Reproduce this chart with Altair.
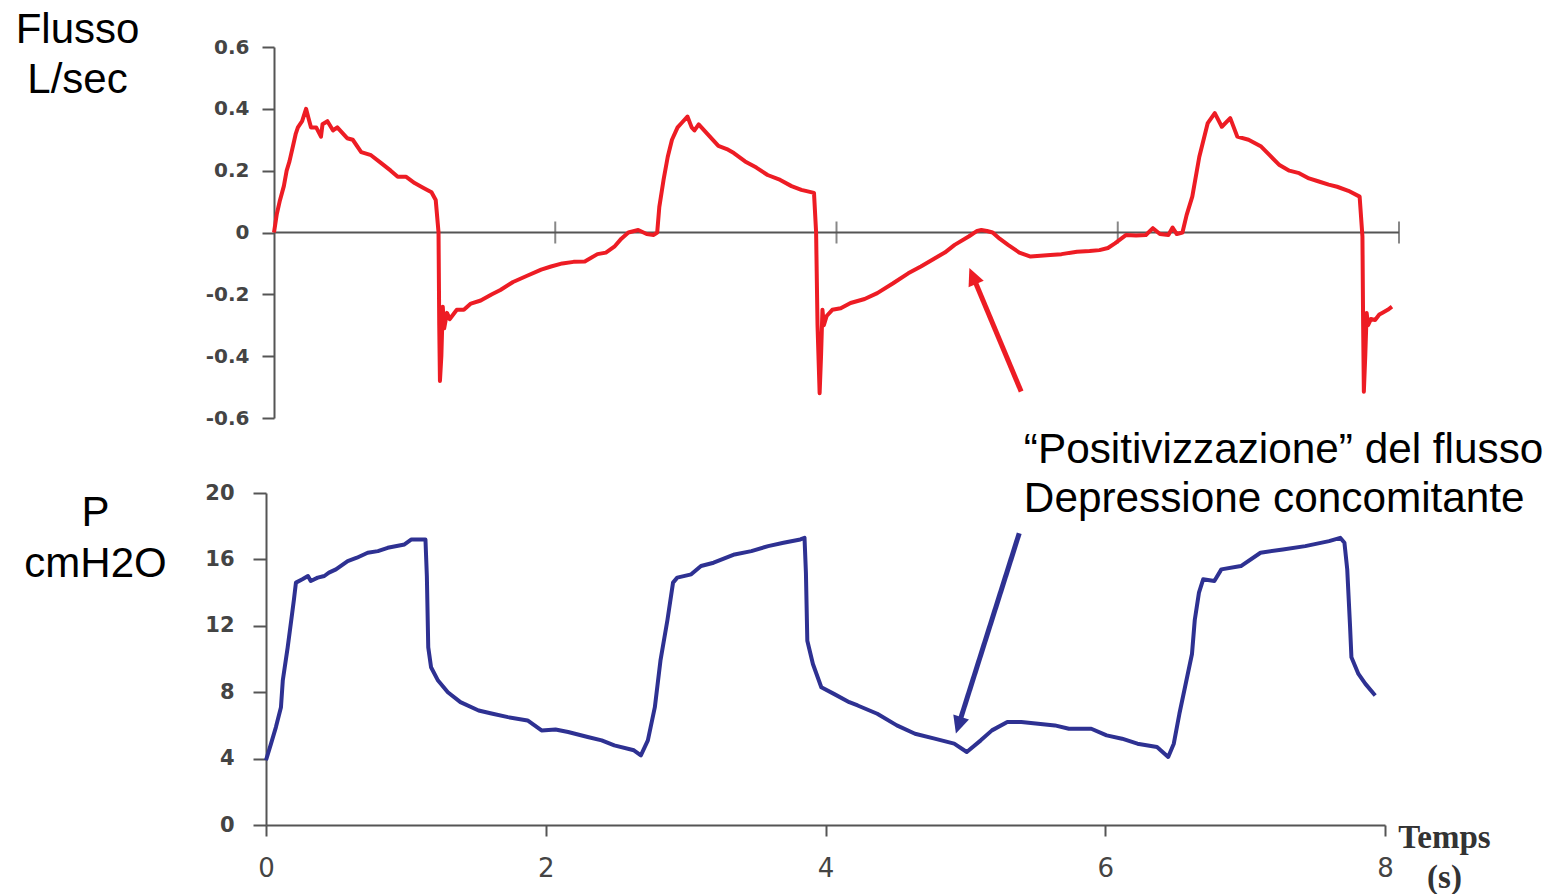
import altair as alt
import pandas as pd

# ---------------- data ----------------
flow_t = [0.00, 0.02, 0.04, 0.07, 0.09, 0.11, 0.135, 0.155, 0.17, 0.20, 0.228, 0.245, 0.263, 0.30,
          0.334, 0.345, 0.38, 0.42, 0.45, 0.52, 0.56, 0.62, 0.69, 0.76, 0.83, 0.88, 0.94, 1.00,
          1.06, 1.12, 1.15, 1.17, 1.175, 1.18, 1.19, 1.20, 1.21, 1.23, 1.25, 1.30, 1.35, 1.40,
          1.47, 1.55, 1.61, 1.70, 1.80, 1.90, 1.97, 2.05, 2.13, 2.21, 2.30, 2.36, 2.42, 2.47,
          2.52, 2.59, 2.65, 2.70, 2.725, 2.74, 2.77, 2.80, 2.83, 2.87, 2.90, 2.94, 2.97, 2.99,
          3.02, 3.08, 3.16, 3.22, 3.27, 3.35, 3.43, 3.51, 3.60, 3.68, 3.75, 3.84, 3.855, 3.865,
          3.88, 3.89, 3.90, 3.91, 3.93, 3.97, 4.03, 4.10, 4.20, 4.29, 4.40, 4.51, 4.60, 4.70,
          4.77, 4.84, 4.94, 5.00, 5.03, 5.07, 5.11, 5.16, 5.22, 5.30, 5.38, 5.45, 5.52, 5.60,
          5.71, 5.80, 5.87, 5.93, 5.98, 6.06, 6.13, 6.20, 6.25, 6.30, 6.36, 6.39, 6.42, 6.46,
          6.49, 6.53, 6.58, 6.64, 6.69, 6.74, 6.80, 6.85, 6.93, 7.02, 7.08, 7.15, 7.22, 7.29,
          7.36, 7.43, 7.50, 7.56, 7.64, 7.72, 7.74, 7.745, 7.75, 7.76, 7.77, 7.78, 7.80, 7.83,
          7.86, 7.88, 7.92, 7.95]
flow_v = [0.00, 0.06, 0.10, 0.15, 0.20, 0.23, 0.28, 0.32, 0.34, 0.36, 0.40, 0.37, 0.34, 0.34,
          0.31, 0.35, 0.36, 0.33, 0.34, 0.305, 0.30, 0.26, 0.25, 0.225, 0.20, 0.18, 0.18, 0.16,
          0.145, 0.13, 0.105, 0.00, -0.30, -0.48, -0.40, -0.24, -0.31, -0.26, -0.28, -0.25, -0.25, -0.23,
          -0.22, -0.20, -0.186, -0.16, -0.14, -0.12, -0.11, -0.10, -0.095, -0.094, -0.07, -0.065, -0.046, -0.02,
          0.00, 0.008, -0.005, -0.008, 0.00, 0.083, 0.17, 0.245, 0.30, 0.34, 0.355, 0.375, 0.34, 0.33,
          0.35, 0.32, 0.28, 0.27, 0.257, 0.23, 0.21, 0.186, 0.17, 0.15, 0.138, 0.128, 0.00, -0.30,
          -0.52, -0.40, -0.25, -0.30, -0.27, -0.25, -0.245, -0.228, -0.215, -0.196, -0.165, -0.132, -0.11, -0.083,
          -0.065, -0.04, -0.013, 0.005, 0.008, 0.005, 0.00, -0.02, -0.04, -0.065, -0.078, -0.075, -0.073, -0.07,
          -0.062, -0.06, -0.057, -0.05, -0.035, -0.008, -0.01, -0.008, 0.014, -0.005, -0.008, 0.016, -0.005, 0.00,
          0.057, 0.116, 0.245, 0.354, 0.386, 0.342, 0.37, 0.31, 0.30, 0.278, 0.25, 0.218, 0.20, 0.192,
          0.175, 0.165, 0.155, 0.148, 0.135, 0.116, -0.013, -0.30, -0.515, -0.40, -0.26, -0.30, -0.28, -0.283,
          -0.265, -0.26, -0.25, -0.24]

pres_t = [0.00, 0.036, 0.071, 0.107, 0.12, 0.155, 0.18, 0.20, 0.214, 0.26, 0.30, 0.32, 0.37, 0.417,
          0.45, 0.50, 0.584, 0.65, 0.727, 0.80, 0.87, 0.99, 1.04, 1.10, 1.14, 1.15, 1.16, 1.18,
          1.23, 1.30, 1.39, 1.52, 1.62, 1.73, 1.87, 1.97, 2.07, 2.16, 2.30, 2.40, 2.49, 2.63,
          2.68, 2.73, 2.78, 2.82, 2.87, 2.91, 2.94, 3.04, 3.11, 3.20, 3.35, 3.47, 3.59, 3.70,
          3.82, 3.85, 3.86, 3.87, 3.91, 3.97, 4.06, 4.17, 4.23, 4.37, 4.51, 4.64, 4.78, 4.92,
          5.01, 5.11, 5.19, 5.30, 5.40, 5.52, 5.64, 5.74, 5.90, 6.01, 6.12, 6.23, 6.37, 6.45,
          6.49, 6.53, 6.57, 6.62, 6.64, 6.67, 6.70, 6.78, 6.83, 6.97, 7.11, 7.27, 7.43, 7.60,
          7.68, 7.71, 7.73, 7.75, 7.76, 7.81, 7.86, 7.93]
pres_v = [3.9, 4.9, 5.9, 7.1, 8.7, 10.7, 12.3, 13.6, 14.6, 14.8, 15.0, 14.7, 14.9, 15.0,
          15.2, 15.4, 15.9, 16.1, 16.4, 16.5, 16.7, 16.9, 17.2, 17.2, 17.2, 15.0, 10.7, 9.5,
          8.7, 8.0, 7.4, 6.9, 6.7, 6.5, 6.3, 5.7, 5.75, 5.6, 5.3, 5.1, 4.8, 4.5,
          4.2, 5.1, 7.1, 9.9, 12.35, 14.6, 14.9, 15.1, 15.6, 15.8, 16.3, 16.5, 16.8, 17.0,
          17.2, 17.3, 15.2, 11.1, 9.7, 8.3, 7.9, 7.4, 7.2, 6.7, 6.0, 5.5, 5.2, 4.9,
          4.4, 5.1, 5.7, 6.2, 6.2, 6.1, 6.0, 5.8, 5.8, 5.4, 5.2, 4.9, 4.7, 4.1,
          4.9, 6.7, 8.3, 10.3, 12.35, 14.0, 14.8, 14.7, 15.4, 15.6, 16.4, 16.6, 16.8, 17.1,
          17.3, 17.0, 15.4, 12.0, 10.1, 9.1, 8.5, 7.8]

time_ticks = [0, 2, 4, 6, 8]
zero_ticks = [2, 4, 6, 8]
flow_ticks = [-0.6, -0.4, -0.2, 0, 0.2, 0.4, 0.6]
pres_ticks = [0, 4, 8, 12, 16, 20]

note_text = ["\u201cPositivizzazione\u201d del flusso", "Depressione concomitante"]
note_t = [5.418, 5.418]
note_p = [21.83, 18.83]

red_arrow_t = [5.313, 4.969]
red_arrow_f = [-0.514, -0.141]
blue_arrow_t = [5.385, 4.951]
blue_arrow_p = [17.57, 6.01]

RED = "#ed1c24"
BLUE = "#2e3192"
AXC = "#555555"
HEAD = "M0,-1L0.95,1L-0.95,1Z"

flow_df = pd.DataFrame({"t": flow_t, "v": flow_v})
pres_df = pd.DataFrame({"t": pres_t, "v": pres_v})
zero_df = pd.DataFrame({"t": [0], "t2": [8], "v": [0]})
ztick_df = pd.DataFrame({"t": zero_ticks, "v": [0] * len(zero_ticks)})
note_df = pd.DataFrame({"t": note_t, "v": note_p, "label": note_text})
red_df = pd.DataFrame({"t": red_arrow_t, "v": red_arrow_f, "o": [0, 1]})
blue_df = pd.DataFrame({"t": blue_arrow_t, "v": blue_arrow_p, "o": [0, 1]})

# ---------------- top panel: flow ----------------
xt = alt.X("t:Q", scale=alt.Scale(domain=[-0.0569, 8], nice=False, zero=False), axis=None)
yt_axis = alt.Axis(
    values=flow_ticks,
    labelExpr="datum.value == 0 ? '0' : (datum.value < 0 ? '-' + format(-datum.value, '.1f') : format(datum.value, '.1f'))",
    offset=-8, grid=False, domainColor=AXC, domainWidth=2, tickColor=AXC, tickWidth=2, tickSize=12,
    labelFont="DejaVu Sans", labelFontWeight="bold", labelFontSize=20, labelColor="#444444",
    labelPadding=13,
    title=["Flusso", "L/sec"], titleAngle=0, titleFont="Liberation Sans", titleFontSize=42,
    titleFontWeight="normal", titleColor="black", titleAlign="center", titleBaseline="top",
    titleX=-197, titleY=-38, titleLineHeight=50,
)
yt = alt.Y("v:Q", scale=alt.Scale(domain=[-0.6, 0.6], nice=False, zero=False), axis=yt_axis)
yt_plain = alt.Y("v:Q")

zero_rule = alt.Chart(zero_df).mark_rule(color=AXC, strokeWidth=2).encode(
    x=xt, x2="t2:Q", y=yt)
zero_tick = alt.Chart(ztick_df).mark_tick(orient="vertical", size=22, thickness=2, color=AXC).encode(
    x=xt, y=yt_plain)
flow_line = alt.Chart(flow_df).mark_line(color=RED, strokeWidth=4, strokeJoin="round").encode(
    x=xt, y=yt_plain, order="t:Q")
red_line = alt.Chart(red_df).mark_line(color=RED, strokeWidth=5).encode(
    x=xt, y=yt_plain, order="o:Q")
red_head = alt.Chart(red_df[red_df.o == 1]).mark_point(
    shape=HEAD, size=300, filled=True, opacity=1, color=RED, angle=337, strokeWidth=0).encode(
    x=xt, y=yt_plain)

top = alt.layer(zero_rule, zero_tick, flow_line, red_line, red_head).properties(width=1133, height=371)

# ---------------- bottom panel: pressure ----------------
xb_axis = alt.Axis(
    values=time_ticks, format="d", grid=False, domainColor=AXC, domainWidth=2, tickColor=AXC,
    tickWidth=2, tickSize=11, labelFont="DejaVu Sans", labelFontSize=26, labelColor="#444444",
    labelPadding=19, labelFlush=False,
    title=["Temps", "(s)"], titleFont="Liberation Serif", titleFontWeight="bold", titleFontSize=33,
    titleColor="#333333", titleAlign="center", titleBaseline="top", titleX=1178, titleY=-4,
    titleLineHeight=40, titleAngle=0,
)
xb = alt.X("t:Q", scale=alt.Scale(domain=[0, 8], nice=False, zero=False), axis=xb_axis)
xb_plain = alt.X("t:Q")
yb_axis = alt.Axis(
    values=pres_ticks, format="d", grid=False, domainColor=AXC, domainWidth=2, tickColor=AXC,
    tickWidth=2, tickSize=13, labelFont="DejaVu Sans", labelFontWeight="bold", labelFontSize=21,
    labelColor="#444444", labelPadding=19,
    title=["P", "cmH2O"], titleAngle=0, titleFont="Liberation Sans", titleFontSize=42,
    titleFontWeight="normal", titleColor="black", titleAlign="center", titleBaseline="top",
    titleX=-171, titleY=-1, titleLineHeight=51,
)
yb = alt.Y("v:Q", scale=alt.Scale(domain=[0, 20], nice=False, zero=False), axis=yb_axis)
yb_plain = alt.Y("v:Q")

pres_line = alt.Chart(pres_df).mark_line(color=BLUE, strokeWidth=4, strokeJoin="round").encode(
    x=xb, y=yb, order="t:Q")
blue_line = alt.Chart(blue_df).mark_line(color=BLUE, strokeWidth=5).encode(
    x=xb_plain, y=yb_plain, order="o:Q")
blue_head = alt.Chart(blue_df[blue_df.o == 1]).mark_point(
    shape=HEAD, size=300, filled=True, opacity=1, color=BLUE, angle=197.6, strokeWidth=0).encode(
    x=xb_plain, y=yb_plain)
notes = alt.Chart(note_df).mark_text(
    align="left", baseline="alphabetic", font="Liberation Sans", fontSize=42.3, color="black",
    clip=False).encode(x=xb_plain, y=yb_plain, text="label:N")

bottom = alt.layer(pres_line, blue_line, blue_head, notes).properties(width=1119, height=332)

chart = alt.vconcat(top, bottom, spacing=75, bounds="flush").properties(
    padding={"left": 7, "top": 0, "right": 0, "bottom": 0}
).configure_view(stroke=None)

chart.save("out.html", embed_options={"renderer": "svg", "actions": False})
